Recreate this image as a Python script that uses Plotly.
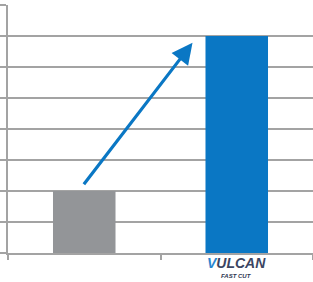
import plotly.graph_objects as go

categories = ["Standard", "Vulcan Fast Cut"]
values = [2, 7]
bar_colors = ["#939598", "#0a77c4"]

y_max = 8
arrow_start = (-0.01, 2.17)
arrow_end = (0.71, 6.78)

grid_color = "#a3a3a3"

fig = go.Figure()
fig.add_trace(go.Bar(x=categories, y=values, marker=dict(color=bar_colors, line=dict(width=0)),
                     width=0.41, hoverinfo="skip"))

fig.update_layout(
    width=313, height=282,
    margin=dict(l=8, r=0, t=5, b=29),
    paper_bgcolor="white", plot_bgcolor="white",
    showlegend=False,
    xaxis=dict(type="category", range=[-0.5, 1.5], tickson="boundaries", ticks="outside",
               ticklen=5, tickwidth=1.5, tickcolor=grid_color, showticklabels=False,
               showline=True, linecolor=grid_color, linewidth=1.5, showgrid=False, zeroline=False),
    yaxis=dict(range=[0, y_max], dtick=1, showgrid=True, gridcolor=grid_color, gridwidth=1.5,
               ticks="outside", ticklen=6, tickwidth=1.5, tickcolor=grid_color,
               showticklabels=False, showline=True, linecolor=grid_color, linewidth=1.5,
               zeroline=False),
)

fig.add_annotation(x=arrow_end[0], y=arrow_end[1], ax=arrow_start[0], ay=arrow_start[1],
                   xref="x", yref="y", axref="x", ayref="y", text="", showarrow=True,
                   arrowhead=2, arrowsize=1.3, arrowwidth=3.2, arrowcolor="#0a77c4", standoff=0)

fig.add_annotation(x=1, y=-0.040, xref="x", yref="paper", showarrow=False,
                   text="<b><i><span style='color:#2a86d0'>V</span>ULCAN</i></b>",
                   font=dict(family="Liberation Sans", size=14, color="#3b4562"),
                   xanchor="center", yanchor="middle", borderpad=0)
fig.add_annotation(x=1, y=-0.094, xref="x", yref="paper", showarrow=False,
                   text="<b><i>FAST CUT</i></b>",
                   font=dict(family="Liberation Sans", size=6, color="#2e3550"),
                   xanchor="center", yanchor="middle", borderpad=0)

fig.write_html("out.html", config={"displayModeBar": False},
               post_script="document.body.style.margin='0';document.body.style.overflow='hidden';")
